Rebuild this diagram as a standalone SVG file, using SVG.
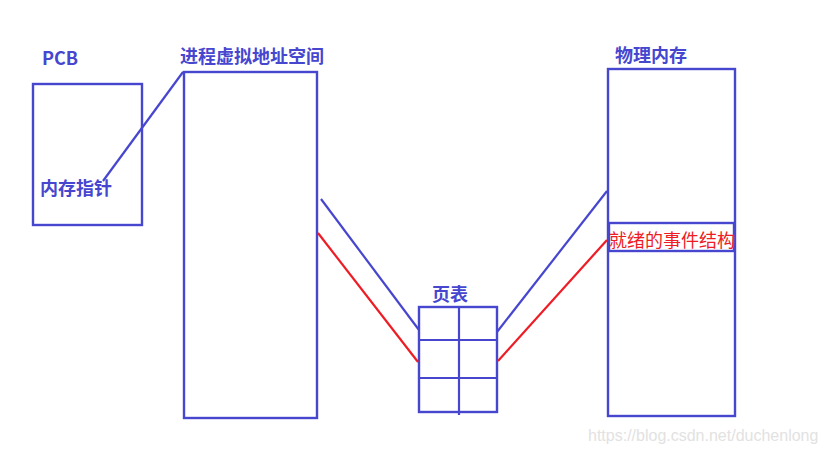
<svg xmlns="http://www.w3.org/2000/svg" width="825" height="453" viewBox="0 0 825 453">
<style>
.box{fill:none;stroke:#4646cf;stroke-width:2.4}
.lbl{font-family:"Noto Sans CJK SC","Liberation Sans",sans-serif;font-weight:bold;font-size:18px;fill:#4646cf}
.blue{stroke:#4646cf;stroke-width:2.2;fill:none}
.red{stroke:#ee1c24;stroke-width:2.2;fill:none}
</style>
<rect width="825" height="453" fill="#ffffff"/>
<g id="pcb">
<rect class="box" x="33" y="84" width="109" height="141"/>
<text class="lbl" x="42" y="65">PCB</text>
<text class="lbl" x="40" y="195">内存指针</text>
</g>
<g id="vspace">
<rect class="box" x="184" y="72" width="133" height="346"/>
<text class="lbl" x="180" y="63">进程虚拟地址空间</text>
</g>
<g id="pagetable">
<rect class="box" x="419" y="307" width="78" height="105"/>
<line class="blue" x1="419" y1="340" x2="497" y2="340"/>
<line class="blue" x1="419" y1="378" x2="497" y2="378"/>
<line class="blue" x1="459" y1="307" x2="459" y2="415"/>
<text class="lbl" x="432" y="301">页表</text>
</g>
<g id="physmem">
<rect class="box" x="608" y="69" width="127" height="347"/>
<rect class="box" x="609" y="223" width="125" height="28"/>
<text class="lbl" x="615" y="62">物理内存</text>
<text x="609" y="247" font-family="Noto Sans CJK SC,sans-serif" font-size="18" fill="#ee1c24">就绪的事件结构</text>
</g>
<g id="connectors">
<line class="blue" x1="183" y1="72" x2="103" y2="181"/>
<line class="blue" x1="321" y1="199" x2="419" y2="330"/>
<line class="red" x1="318" y1="233" x2="418" y2="362"/>
<line class="blue" x1="497" y1="332" x2="607" y2="191"/>
<line class="red" x1="498" y1="361" x2="607" y2="240"/>
</g>
<text x="588" y="441" font-family="Liberation Sans,sans-serif" font-size="16" fill="#e2e2e2">https://blog.csdn.net/duchenlong</text>
</svg>
